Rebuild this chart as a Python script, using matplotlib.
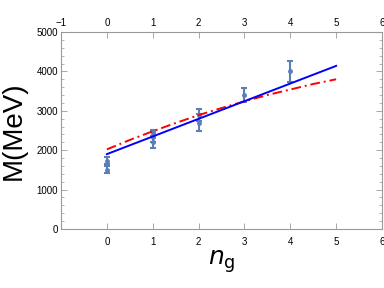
import matplotlib
matplotlib.use("Agg")
import matplotlib.pyplot as plt
from matplotlib.ticker import MultipleLocator

plt.rcParams['font.family'] = ['Liberation Sans', 'DejaVu Sans']

# data points (n_g, mass, error)
pts_x = [0, 0, 1, 1, 1, 2, 2, 3, 4]
pts_m = [1730, 1500, 2430, 2330, 2200, 2900, 2700, 3400, 4000]
pts_e = [90, 90, 90, 130, 150, 150, 220, 180, 270]

# blue solid fit
blue_x = [0, 5]
blue_m = [1900, 4140]

# red dash-dot curve
red_x = [0, 0.5, 1, 1.5, 2, 2.5, 3, 3.5, 4, 4.5, 5]
red_m = [2020, 2260, 2480, 2690, 2890, 3070, 3240, 3400, 3540, 3680, 3800]

xticks = [-1, 0, 1, 2, 3, 4, 5, 6]
bottom_labels = ['', '0', '1', '2', '3', '4', '5', '6']
top_labels = ['\u22121', '0', '1', '2', '3', '4', '5', '6']
yticks = [0, 1000, 2000, 3000, 4000, 5000]

fig = plt.figure(figsize=(3.84, 2.88), dpi=100)
ax = fig.add_axes([61/384, 1 - 229/288, (382-61)/384, (229-32)/288])

ax.plot(red_x, red_m, color='red', lw=1.4, ls=(0, (5, 2, 1, 2)), zorder=3)
ax.plot(blue_x, blue_m, color='blue', lw=1.4, zorder=3)
ax.errorbar(pts_x, pts_m, yerr=pts_e, fmt='o', ms=2.5, color='#5a7eb8',
            ecolor='#5a7eb8', elinewidth=1.5, capsize=2.5, capthick=1.5, zorder=2)

ax.set_xlim(-1, 6)
ax.set_ylim(0, 5000)
ax.set_xticks(xticks)
ax.set_xticklabels(bottom_labels)
ax.set_yticks(yticks)
ax.yaxis.set_minor_locator(MultipleLocator(200))
ax.tick_params(axis='both', which='both', direction='in', colors='#999999',
               labelcolor='black', labelsize=7, top=True, right=True,
               labelright=False)
ax.tick_params(which='major', length=4, width=0.6)
ax.tick_params(which='minor', length=2, width=0.5)
ax.tick_params(axis='x', pad=6)
ax.tick_params(axis='y', pad=2)
for s in ax.spines.values():
    s.set_color('#999999')
    s.set_linewidth(0.8)

sec = ax.secondary_xaxis('top')
sec.set_xticks(xticks)
sec.set_xticklabels(top_labels)
sec.tick_params(direction='in', length=0, labelsize=7, pad=3)
sec.spines['top'].set_visible(False)

ax.set_ylabel('M(MeV)', fontsize=20, labelpad=7)
ax.set_xlabel(r'$\mathit{n}_{\mathrm{g}}$', fontsize=18, labelpad=1)

fig.savefig('out.png', dpi=100)
